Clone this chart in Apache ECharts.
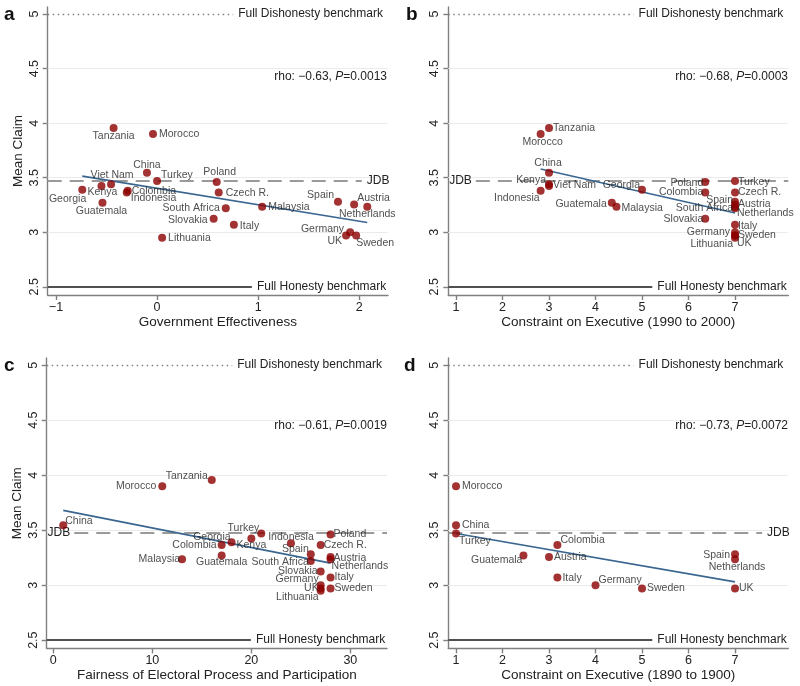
<!DOCTYPE html>
<html><head><meta charset="utf-8">
<script src="https://cdn.jsdelivr.net/npm/echarts@6/dist/echarts.min.js"></script>
<style>html,body{margin:0;padding:0;background:#fff}#c{width:800px;height:686px}</style>
</head><body><div id="c"></div>
<script>
// ---------------- data ----------------
const countries = ['Tanzania','Morocco','China','Turkey','Viet Nam','Kenya','Georgia','Colombia','Indonesia','Guatemala','Poland','Czech R.','South Africa','Slovakia','Italy','Lithuania','Malaysia','Spain','Austria','Netherlands','Germany','UK','Sweden'];
const meanClaim = [3.955,3.90,3.545,3.47,3.44,3.425,3.39,3.365,3.38,3.27,3.46,3.365,3.22,3.125,3.07,2.95,3.235,3.28,3.255,3.235,3.0,2.97,2.97];

// panel a
const govEffectiveness = [-0.43,-0.04,-0.10,0.00,-0.455,-0.55,-0.74,-0.30,-0.29,-0.54,0.59,0.61,0.68,0.56,0.76,0.05,1.04,1.79,1.95,2.08,1.91,1.87,1.97];
// panel b
const constraint1990 = [3,2.82,3,7,3,3,5,6.36,2.82,4.35,6.36,7,7,6.36,7,7,4.45,7,7,7,7,7,7];
// panel c
const electoralCountries = ['Tanzania','Morocco','China','Turkey','Kenya','Georgia','Colombia','Indonesia','Guatemala','Poland','Czech R.','South Africa','Slovakia','Italy','Lithuania','Malaysia','Spain','Austria','Netherlands','Germany','UK','Sweden'];
const electoralFairness = [16,11,1,21,20,18,17,24,17,28,27,26,27,28,27,13,26,28,28,27,27,28];
// panel d
const constraint1890Countries = ['Morocco','China','Turkey','Guatemala','Austria','Colombia','Italy','Germany','Sweden','Spain','Netherlands','UK'];
const constraint1890 = [1,1,1,2.45,3,3.18,3.18,4,5,7,7,7];

// fitted lines (endpoints)
const fitA = [[-0.74,3.515],[2.08,3.09]];
const fitB = [[2.82,3.58],[7,3.176]];
const fitC = [[1,3.68],[28,3.20]];
const fitD = [[1,3.47],[7,3.03]];

// statistics
const rhoValues = ['−0.63','−0.68','−0.61','−0.73'];
const pValues = ['0.0013','0.0003','0.0019','0.0072'];

// benchmarks
const fullDishonesty = 5;
const fullHonesty = 2.5;
const jdbLevel = 3.475;

// ticks
const yTicks = [2.5,3,3.5,4,4.5,5];
const gridValues = [3,3.5,4,4.5];
const xTicksA = [-1,0,1,2];
const xTicksB = [1,2,3,4,5,6,7];
const xTicksC = [0,10,20,30];
const xTicksD = [1,2,3,4,5,6,7];

// ---------------- label placement (anchor, dx, dy) ----------------
const labelsA = {'Tanzania':['c',0,8],'Morocco':['l',6,0],'China':['c',0,-8],'Turkey':['l',4,-6],'Viet Nam':['c',1,-9],'Kenya':['c',1,6],'Georgia':['r',4,9],'Colombia':['l',5,-1],'Indonesia':['l',3,7],'Guatemala':['c',-1,8],'Poland':['c',3,-10],'Czech R.':['l',7,1],'South Africa':['r',-6,0],'Slovakia':['r',-6,1],'Italy':['l',6,1],'Lithuania':['l',6,0],'Malaysia':['l',6,0],'Spain':['r',-4,-7],'Austria':['l',3,-6],'Netherlands':['c',0,7],'Germany':['r',-6,-3],'UK':['r',-4,6],'Sweden':['l',0,8]};
const labelsB = {'Tanzania':['l',4,0],'Morocco':['c',2,8],'China':['c',-1,-10],'Kenya':['r',-3,-6],'Viet Nam':['l',4,1],'Indonesia':['r',-1,7],'Georgia':['r',-2,-5],'Guatemala':['r',-5,1],'Malaysia':['l',5,1],'Poland':['r',-2,1],'Colombia':['r',-2,0],'Slovakia':['r',-2,0],'Turkey':['l',3,1],'Czech R.':['l',3,0],'Spain':['r',-2,-2],'Austria':['l',3,0],'South Africa':['r',-2,0],'Netherlands':['l',2,6],'Italy':['l',3,1],'Germany':['r',-5,0],'Sweden':['l',3,0],'Lithuania':['r',-2,6],'UK':['l',2,8]};
const labelsC = {'Tanzania':['r',-4,-4],'Morocco':['r',-6,0],'China':['l',2,-4],'Turkey':['r',-2,-5],'Georgia':['r',-1,-5],'Kenya':['c',0,7],'Colombia':['r',-5,0],'Guatemala':['c',0,7],'Malaysia':['r',-2,0],'Indonesia':['c',0,-6],'Spain':['r',-2,-5],'South Africa':['r',-2,1],'Czech R.':['l',3,0],'Slovakia':['r',-3,0],'Germany':['r',-2,-6],'UK':['r',-2,0],'Lithuania':['r',-2,6],'Poland':['l',3,0],'Austria':['l',3,1],'Netherlands':['l',1,7],'Italy':['l',4,0],'Sweden':['l',4,0]};
const labelsD = {'Morocco':['l',6,0],'China':['l',6,0],'Turkey':['l',3,8],'Guatemala':['r',-1,5],'Austria':['l',5,0],'Colombia':['l',3,-5],'Italy':['l',5,1],'Germany':['l',3,-5],'Sweden':['l',5,0],'Spain':['r',-5,1],'Netherlands':['c',2,8],'UK':['l',4,0]};

// ---------------- layout ----------------
const FONT = "'Liberation Sans', Arial, Helvetica, sans-serif";
const Y_MIN = 2.425, Y_MAX = 5.065;
const panels = [
  {letter:'a', grid:{left:47.7, top:7, width:340.3, height:288}, xMin:-1.082, xMax:2.285, xTicks:xTicksA, xName:'Government Effectiveness', yName:'Mean Claim', names:countries, xs:govEffectiveness, fit:fitA, labels:labelsA, jdbRight:true, letterPos:{left:4, top:5}, rhoPos:{right:413, top:71}},
  {letter:'b', grid:{left:448.3, top:7, width:340, height:288}, xMin:0.834, xMax:8.146, xTicks:xTicksB, xName:'Constraint on Executive (1990 to 2000)', yName:'', names:countries, xs:constraint1990, fit:fitB, labels:labelsB, jdbRight:false, letterPos:{left:406, top:5}, rhoPos:{right:12, top:71}},
  {letter:'c', grid:{left:46.7, top:358, width:340.3, height:290.4}, xMin:-0.67, xMax:33.7, xTicks:xTicksC, xName:'Fairness of Electoral Process and Participation', yName:'Mean Claim', names:electoralCountries, xs:electoralFairness, fit:fitC, labels:labelsC, jdbRight:false, letterPos:{left:4, top:356}, rhoPos:{right:413, top:420}},
  {letter:'d', grid:{left:448.3, top:358, width:340, height:290.4}, xMin:0.834, xMax:8.146, xTicks:xTicksD, xName:'Constraint on Executive (1890 to 1900)', yName:'', names:constraint1890Countries, xs:constraint1890, fit:fitD, labels:labelsD, jdbRight:true, letterPos:{left:404, top:356}, rhoPos:{right:12, top:420}}
];

function claimOf(n){ return meanClaim[countries.indexOf(n)]; }
const fmt = v => String(v).replace('-', '−');
const axisLineStyle = {color:'#808080', width:1.4};

const grids = [], xAxes = [], yAxes = [], series = [], titles = [];
panels.forEach((p, i) => {
  grids.push(Object.assign({containLabel:false}, p.grid));
  xAxes.push({
    type:'value', gridIndex:i, min:p.xMin, max:p.xMax,
    axisLine:{show:true, onZero:false, lineStyle:axisLineStyle},
    axisTick:{show:true, customValues:p.xTicks, length:5, lineStyle:axisLineStyle},
    axisLabel:{customValues:p.xTicks, formatter:fmt, fontSize:12.5, color:'#222', margin:6, fontFamily:FONT},
    splitLine:{show:false},
    name:p.xName, nameLocation:'middle', nameGap:20,
    nameTextStyle:{fontSize:13.5, color:'#222', fontFamily:FONT}
  });
  yAxes.push({
    type:'value', gridIndex:i, min:Y_MIN, max:Y_MAX,
    axisLine:{show:true, onZero:false, lineStyle:axisLineStyle},
    axisTick:{show:true, customValues:yTicks, length:5, lineStyle:axisLineStyle},
    axisLabel:{customValues:yTicks, rotate:90, fontSize:12.5, color:'#222', margin:7, fontFamily:FONT, formatter:v=>String(v)},
    splitLine:{show:false},
    name:p.yName, nameLocation:'middle', nameGap:22, nameRotate:90,
    nameTextStyle:{fontSize:13.5, color:'#222', fontFamily:FONT}
  });
  const span = p.xMax - p.xMin;
  const xAt = f => p.xMin + f*span;
  const benchLabel = {show:true, position:'end', distance:5, fontSize:12, color:'#222', fontFamily:FONT, textBorderWidth:0};
  const jdbItem = p.jdbRight
    ? [{coord:[p.xMin, jdbLevel]}, {coord:[xAt(0.923), jdbLevel], label:Object.assign({}, benchLabel, {formatter:'JDB', position:'end', distance:5})}]
    : [{coord:[xAt(0.081), jdbLevel]}, {coord:[p.xMax, jdbLevel], label:Object.assign({}, benchLabel, {formatter:'JDB', position:'start', distance:4})}];
  jdbItem[0].lineStyle = {color:'#9a9a9a', width:1.8, type:[14,8]};
  // grid lines
  series.push({
    type:'line', xAxisIndex:i, yAxisIndex:i, data:p.fit, symbol:'none', lineStyle:{opacity:0}, z:1, silent:true,
    markLine:{silent:true, z:1, symbol:['none','none'], animation:false,
      label:{show:false},
      lineStyle:{color:'#ebebeb', width:1, type:'solid'},
      data: gridValues.map(v => ({yAxis:v}))
    }
  });
  // benchmarks
  series.push({
    type:'line', xAxisIndex:i, yAxisIndex:i, data:p.fit, symbol:'none', lineStyle:{opacity:0}, z:2, silent:true,
    markLine:{silent:true, z:2, symbol:['none','none'], animation:false,
      data:[
        [{coord:[p.xMin, fullDishonesty], lineStyle:{color:'#808080', width:1.3, type:[1.5,3.5]}},
         {coord:[xAt(0.545), fullDishonesty], label:Object.assign({}, benchLabel, {formatter:'Full Dishonesty benchmark'})}],
        [{coord:[p.xMin, fullHonesty], lineStyle:{color:'#505050', width:1.8, type:'solid'}},
         {coord:[xAt(0.6), fullHonesty], label:Object.assign({}, benchLabel, {formatter:'Full Honesty benchmark'})}],
        jdbItem
      ]
    }
  });
  // fitted line
  series.push({
    type:'line', xAxisIndex:i, yAxisIndex:i, data:p.fit, symbol:'none', z:3, silent:true,
    lineStyle:{color:'#3a6690', width:1.6}
  });
  // points
  series.push({
    type:'scatter', xAxisIndex:i, yAxisIndex:i, z:6, symbolSize:8, silent:true,
    itemStyle:{color:'#8c0000'},
    label:{show:true, formatter:'{b}', fontSize:10.5, color:'#222', fontFamily:FONT, textBorderWidth:0},
    labelLayout:{hideOverlap:false},
    emphasis:{disabled:true},
    data:p.names.map((n, k) => {
      const L = p.labels[n] || ['l',5,0];
      return {name:n, value:[p.xs[k], claimOf(n)],
        label:{position:[4+L[1], 4+L[2]], align:L[0]==='l'?'left':(L[0]==='r'?'right':'center'), verticalAlign:'middle'}};
    })
  });
  titles.push({text:p.letter, left:p.letterPos.left, top:p.letterPos.top, padding:0,
    textStyle:{fontSize:19, fontWeight:'bold', color:'#111', fontFamily:FONT}});
  titles.push({text:'{n|rho: ' + rhoValues[i] + ', }{i|P}{n|=' + pValues[i] + '}', right:p.rhoPos.right, top:p.rhoPos.top, padding:0,
    textStyle:{fontWeight:'normal', rich:{n:{fontSize:12, fontWeight:'normal', color:'#222', fontFamily:FONT}, i:{fontSize:12, fontWeight:'normal', color:'#222', fontStyle:'italic', fontFamily:FONT}}}});
});

const chart = echarts.init(document.getElementById('c'), null, {renderer:'canvas'});
chart.setOption({
  animation:false,
  backgroundColor:'#fff',
  title:titles,
  grid:grids, xAxis:xAxes, yAxis:yAxes, series:series
});
</script>
</body></html>
